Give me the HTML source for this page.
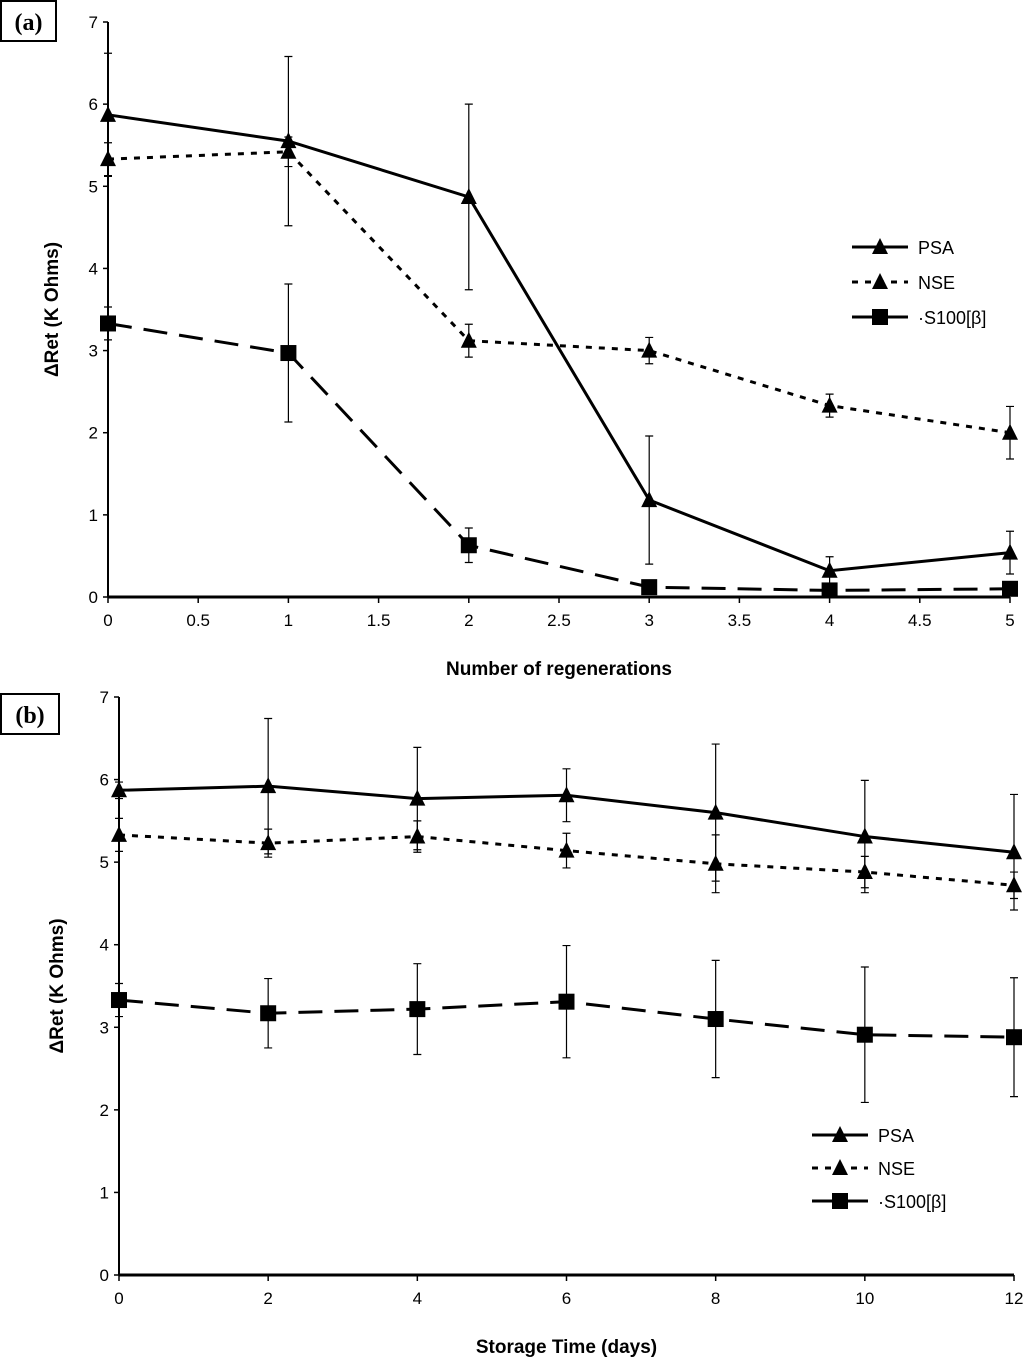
<!DOCTYPE html>
<html><head><meta charset="utf-8"><style>
body{margin:0;background:#fff;}
svg text{font-family:"Liberation Sans",Arial,sans-serif;}
</style></head><body>
<svg id="chart" width="1024" height="1359" xmlns="http://www.w3.org/2000/svg"></svg>
<script>
const aX = [0,1,2,3,4,5];
const aPSA = [5.87,5.55,4.87,1.18,0.32,0.54];
const aPSAerr = [0.75,1.03,1.13,0.78,0.17,0.26];
const aNSE = [5.33,5.42,3.12,3.0,2.33,2.0];
const aNSEerr = [0.2,0.18,0.2,0.16,0.14,0.32];
const aS100 = [3.33,2.97,0.63,0.12,0.08,0.1];
const aS100err = [0.2,0.84,0.21,0.05,0.03,0.05];
const aXticks = [0,0.5,1,1.5,2,2.5,3,3.5,4,4.5,5];
const bX = [0,2,4,6,8,10,12];
const bPSA = [5.87,5.92,5.77,5.81,5.6,5.31,5.12];
const bPSAerr = [0.1,0.82,0.62,0.32,0.83,0.68,0.7];
const bNSE = [5.33,5.23,5.31,5.14,4.98,4.88,4.72];
const bNSEerr = [0.2,0.17,0.19,0.21,0.35,0.19,0.16];
const bS100 = [3.33,3.17,3.22,3.31,3.1,2.91,2.88];
const bS100err = [0.2,0.42,0.55,0.68,0.71,0.82,0.72];
const bXticks = [0,2,4,6,8,10,12];
const yTicks = [0,1,2,3,4,5,6,7];

const NS="http://www.w3.org/2000/svg";
const svg=document.getElementById('chart');
function mk(t,a,p){const e=document.createElementNS(NS,t);for(const k in a)e.setAttribute(k,a[k]);(p||svg).appendChild(e);return e;}

function tri(g,x,y){return mk('polygon',{points:`${x},${y-9} ${x-8},${y+7} ${x+8},${y+7}`,fill:'#000'},g);}
function sq(g,x,y){return mk('rect',{x:x-8,y:y-8,width:16,height:16,fill:'#000'},g);}

function panel(o){
  const g=mk('g',{});
  
  
  const sx=v=>o.x0+(v-o.xmin)/(o.xmax-o.xmin)*(o.x1-o.x0);
  const sy=v=>o.y0-v/7*(o.y0-o.y1);
  const ax=mk('line',{x1:o.x0,y1:o.y0,x2:o.x1,y2:o.y0,stroke:'#000','stroke-width':3},g);
  
  const ay=mk('line',{x1:o.x0,y1:o.y0,x2:o.x0,y2:o.y1,stroke:'#000','stroke-width':2},g);
  
  yTicks.forEach(t=>{
    mk('line',{x1:o.x0-5,y1:sy(t),x2:o.x0,y2:sy(t),stroke:'#000','stroke-width':1.5},g);
    const tx=mk('text',{x:o.x0-10,y:sy(t)+6,'text-anchor':'end','font-size':17},g);
    tx.textContent=t;
    
  });
  o.xticks.forEach(t=>{
    mk('line',{x1:sx(t),y1:o.y0,x2:sx(t),y2:o.y0+6,stroke:'#000','stroke-width':1.5},g);
    const tx=mk('text',{x:sx(t),y:o.y0+29,'text-anchor':'middle','font-size':17},g);
    tx.textContent=t;
    
  });
  const xt=mk('text',{x:(o.x0+o.x1)/2,y:o.y0+78,'text-anchor':'middle','font-size':19,'font-weight':'bold'},g);
  xt.textContent=o.xtitle;
  
  const yt=mk('text',{x:0,y:0,'text-anchor':'middle','font-size':19,'font-weight':'bold',transform:`translate(${o.ytx},${(o.y0+o.y1)/2}) rotate(-90)`},g);
  yt.textContent='ΔRet (K Ohms)';
  
  const series=[
    {n:'psa',v:o.psa,e:o.psaE,dash:'',m:tri},
    {n:'nse',v:o.nse,e:o.nseE,dash:'6,7',m:tri},
    {n:'s100',v:o.s100,e:o.s100E,dash:'24,12',m:sq}];
  series.forEach(s=>{
    const sg=mk('g',{},g);
    
    s.v.forEach((v,i)=>{
      const x=sx(o.xs[i]);
      const eb=mk('path',{d:`M${x},${sy(v-s.e[i])}V${sy(v+s.e[i])}M${x-4},${sy(v-s.e[i])}h8M${x-4},${sy(v+s.e[i])}h8`,stroke:'#000','stroke-width':1.2,fill:'none'},sg);
      
    });
    const ln=mk('polyline',{points:s.v.map((v,i)=>sx(o.xs[i])+','+sy(v)).join(' '),fill:'none',stroke:'#000','stroke-width':3,'stroke-dasharray':s.dash},sg);
    
    s.v.forEach((v,i)=>{const m=s.m(sg,sx(o.xs[i]),sy(v));
      });
  });
  const lg=mk('g',{},g);
  
  const labs=[['PSA','',tri],['NSE','6,7',tri],['S100[β]','24,12',sq]];
  labs.forEach((l,i)=>{
    const y=o.ly+i*o.ld;
    mk('line',{x1:o.lx,y1:y,x2:o.lx+56,y2:y,stroke:'#000','stroke-width':3,'stroke-dasharray':l[1]},lg);
    l[2](lg,o.lx+28,y);
    const t=mk('text',{x:o.lx+66,y:y+7,'font-size':18},lg);
    t.textContent=(i==2?'·':'')+l[0];
    
  });
  const pb=mk('rect',{x:1,y:o.py,width:o.pw,height:40,fill:'#fff',stroke:'#000','stroke-width':2},g);
  
  const pt=mk('text',{x:1+o.pw/2,y:o.py+29,'text-anchor':'middle','font-size':24,'font-weight':'bold'},g);
  pt.setAttribute('style','font-family:"Liberation Serif",serif');
  pt.textContent=o.label;
  
}
panel({name:'panel-a',x0:108,x1:1010,y0:597,y1:22,xmin:0,xmax:5,xs:aX,xticks:aXticks,
 psa:aPSA,psaE:aPSAerr,nse:aNSE,nseE:aNSEerr,s100:aS100,s100E:aS100err,
 xtitle:'Number of regenerations',ytx:58,lx:852,ly:247,ld:35,py:1,pw:55,label:'(a)'});
panel({name:'panel-b',x0:119,x1:1014,y0:1275,y1:697,xmin:0,xmax:12,xs:bX,xticks:bXticks,
 psa:bPSA,psaE:bPSAerr,nse:bNSE,nseE:bNSEerr,s100:bS100,s100E:bS100err,
 xtitle:'Storage Time (days)',ytx:63,lx:812,ly:1135,ld:33,py:694,pw:58,label:'(b)'});
</script>
</body></html>
